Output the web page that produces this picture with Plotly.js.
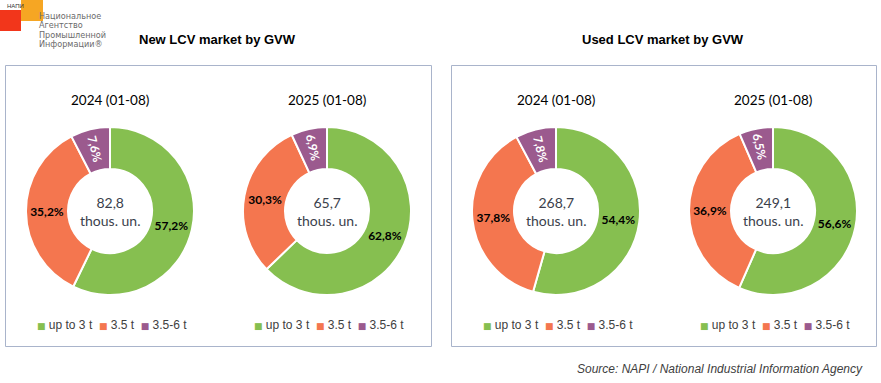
<!DOCTYPE html>
<html>
<head>
<meta charset="utf-8">
<script src="https://cdn.plot.ly/plotly-3.0.1.min.js"></script>
<style>html,body{margin:0;padding:0;background:#fff;}#chart{width:881px;height:383px;}</style>
</head>
<body>
<div id="chart"></div>
<script>
// ---- data ----
const categories = ['up to 3 t', '3.5 t', '3.5-6 t'];
const colors = ['#86BF50', '#F4764F', '#9B5A8E'];
const panelTitles = ['New LCV market by GVW', 'Used LCV market by GVW'];
const periodLabels = ['2024 (01-08)', '2025 (01-08)', '2024 (01-08)', '2025 (01-08)'];
const newLcv2024 = [57.2, 35.2, 7.6];
const newLcv2025 = [62.8, 30.3, 6.9];
const usedLcv2024 = [54.4, 37.8, 7.8];
const usedLcv2025 = [56.6, 36.9, 6.5];
const totals = ['82,8', '65,7', '268,7', '249,1'];
const totalUnit = 'thous. un.';
const sourceText = 'Source: NAPI / National Industrial Information Agency';

// ---- geometry ----
const W = 881, H = 383;
const px = x => x / W;
const py = y => 1 - y / H;
const centersX = [110, 327, 556, 773];
const cy = 211, R = 84;
const series = [newLcv2024, newLcv2025, usedLcv2024, usedLcv2025];

const traces = [];
const annotations = [];
series.forEach((vals, i) => {
  const cx = centersX[i];
  const domain = {x: [px(cx - R), px(cx + R)], y: [py(cy + R), py(cy - R)]};
  const common = {
    type: 'pie', labels: categories, values: vals, sort: false,
    direction: 'clockwise', rotation: 0, hole: 0.5, domain: domain,
    textposition: 'inside', showlegend: false, hoverinfo: 'skip'
  };
  traces.push(Object.assign({}, common, {
    marker: {colors: colors, line: {color: '#ffffff', width: 2}},
    texttemplate: ['<b>%{value:.1f}%</b>', '<b>%{value:.1f}%</b>', ''],
    insidetextorientation: 'horizontal',
    textfont: {family: 'Lato, Carlito, sans-serif', size: 12, color: ['#000000', '#000000', '#ffffff']}
  }));
  traces.push(Object.assign({}, common, {
    marker: {colors: ['rgba(0,0,0,0)', 'rgba(0,0,0,0)', 'rgba(0,0,0,0)'], line: {width: 0}},
    texttemplate: ['', '', '<b>%{value:.1f}%</b>'],
    insidetextorientation: 'radial',
    textfont: {family: 'Lato, Carlito, sans-serif', size: 12, color: '#ffffff'}
  }));
  // center total
  annotations.push({
    xref: 'paper', yref: 'paper', x: px(cx), y: py(cy), xanchor: 'center', yanchor: 'middle',
    text: totals[i] + '<br>' + totalUnit, showarrow: false,
    font: {family: 'Lato, Carlito, sans-serif', size: 14, color: '#3B3F4C'}
  });
  // period label
  annotations.push({
    xref: 'paper', yref: 'paper', x: px(cx), y: py(100), xanchor: 'center', yanchor: 'middle',
    text: periodLabels[i], showarrow: false,
    font: {family: 'Lato, Carlito, sans-serif', size: 13.5, color: '#000000'}
  });
  // legend (built from categories and colors)
  const sp = '\u00a0';
  const legendText = categories.map((c, k) =>
    '<span style="color:' + colors[k] + ';font-size:9px;font-family:DejaVu Sans">■</span>' + sp + c
  ).join(sp + sp);
  annotations.push({
    xref: 'paper', yref: 'paper', x: px(cx + 2), y: py(325), xanchor: 'center', yanchor: 'middle',
    text: legendText, showarrow: false,
    font: {family: 'Liberation Sans, Arial, sans-serif', size: 12, color: '#404040'}
  });
});

// panel titles
[217, 663].forEach((x, i) => {
  annotations.push({
    xref: 'paper', yref: 'paper', x: px(x), y: py(40), xanchor: 'center', yanchor: 'middle',
    text: '<b>' + panelTitles[i] + '</b>', showarrow: false,
    font: {family: 'Liberation Sans, Arial, sans-serif', size: 13, color: '#000000'}
  });
});
// source
annotations.push({
  xref: 'paper', yref: 'paper', x: px(865), y: py(369), xanchor: 'right', yanchor: 'middle',
  text: '<i>' + sourceText + '</i>', showarrow: false,
  font: {family: 'Liberation Sans, Arial, sans-serif', size: 12, color: '#404040'}
});
// logo texts
annotations.push({
  xref: 'paper', yref: 'paper', x: px(5), y: py(6), xanchor: 'left', yanchor: 'middle',
  text: 'НАПИ', showarrow: false,
  font: {family: 'Liberation Sans Narrow, Liberation Sans, sans-serif', size: 6, color: '#333333'}
});
['Национальное', 'Агентство', 'Промышленной', 'Информации®'].forEach((t, k) => {
  annotations.push({
    xref: 'paper', yref: 'paper', x: px(37), y: py(16 + 9.3 * k), xanchor: 'left', yanchor: 'middle',
    text: t, showarrow: false,
    font: {family: 'Liberation Sans Narrow, DejaVu Sans Condensed, Liberation Sans, sans-serif', size: 9, color: '#6b6b6b'}
  });
});

const shapes = [
  {type: 'rect', xref: 'paper', yref: 'paper', x0: px(21), x1: px(43), y0: py(21), y1: py(0), fillcolor: '#F6A623', line: {width: 0}, layer: 'below'},
  {type: 'rect', xref: 'paper', yref: 'paper', x0: px(0), x1: px(21), y0: py(31), y1: py(10), fillcolor: '#F2361B', line: {width: 0}, layer: 'below'},
  {type: 'rect', xref: 'paper', yref: 'paper', x0: px(5.5), x1: px(431.5), y0: py(346.5), y1: py(65.5), line: {color: '#A9B4CB', width: 1}, fillcolor: 'rgba(0,0,0,0)'},
  {type: 'rect', xref: 'paper', yref: 'paper', x0: px(451.5), x1: px(876.5), y0: py(346.5), y1: py(65.5), line: {color: '#A9B4CB', width: 1}, fillcolor: 'rgba(0,0,0,0)'}
];

const layout = {
  width: W, height: H, margin: {l: 0, r: 0, t: 0, b: 0},
  paper_bgcolor: '#ffffff', plot_bgcolor: '#ffffff',
  separators: ', ', showlegend: false,
  annotations: annotations, shapes: shapes
};
Plotly.newPlot('chart', traces, layout, {displayModeBar: false, staticPlot: true});
</script>
</body>
</html>
